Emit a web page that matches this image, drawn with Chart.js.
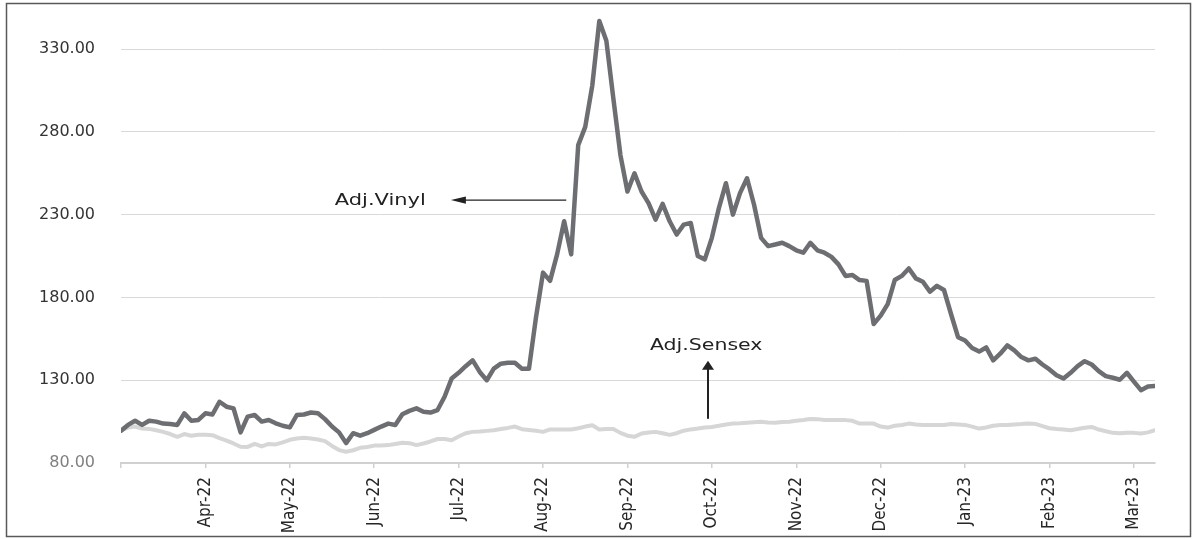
<!DOCTYPE html>
<html>
<head>
<meta charset="utf-8">
<script src="https://cdn.jsdelivr.net/npm/chart.js@4"></script>
<style>
    html, body { margin: 0; padding: 0; background: #ffffff; }
    #wrap { position: relative; width: 1194px; height: 539px; }
</style>
</head>
<body>
<div id="wrap"><canvas id="vinyl_chart" width="1194" height="539"></canvas></div>
<script>
// month labels, one every 12 points on the x index
const monthLabels = ['Apr-22', 'May-22', 'Jun-22', 'Jul-22', 'Aug-22', 'Sep-22', 'Oct-22',
    'Nov-22', 'Dec-22', 'Jan-23', 'Feb-23', 'Mar-23']
const pointsPerMonth = 12

const yTicks = [80, 130, 180, 230, 280, 330]

// Adj.Vinyl (rebased to 100)
const vinyl = [
    99.5, 103, 105.5, 103, 105.5, 105, 103.8, 103.5, 103, 110,
    105.5, 106, 110, 109.3, 117, 114, 113, 98.5, 108, 109,
    105, 106, 104, 102.5, 101.5, 109, 109.3, 110.5, 110, 106.5,
    102, 98.5, 92, 98, 96.5, 98, 100, 102, 103.8, 103,
    109.5, 111.5, 113, 111, 110.5, 112, 120, 131, 134.5, 138.5,
    142, 135, 130, 137, 140, 140.5, 140.5, 136.9, 136.9, 168,
    195, 190, 206, 226, 206, 272, 283, 308, 347, 335,
    300, 266, 244, 255, 244, 237, 227, 236.5, 226, 218,
    224, 225, 205, 203, 216, 234, 249, 230, 243, 252,
    236, 216, 211, 212, 213, 211, 208.5, 207, 213, 208.5,
    207, 204.5, 200, 193, 193.5, 190.5, 190, 164, 169, 176,
    190.5, 193, 197.5, 191.5, 189.5, 183.5, 187, 184.5, 170, 156,
    154, 149.5, 147.3, 149.8, 142, 146, 151, 148, 144, 142,
    143, 139.5, 136.5, 133, 131, 134.5, 138.5, 141.5, 139.5, 135.5,
    132.5, 131.5, 130.3, 134.5, 129.2, 124, 126.2, 126.5
]

// Adj.Sensex (rebased to 100)
const sensex = [
    99.5, 101.5, 102, 100.8, 100.6, 99.8, 98.8, 97.5, 95.8, 97.5,
    96.5, 97, 97, 96.8, 95, 93.5, 91.8, 89.8, 89.7, 91.5,
    90, 91.5, 91.2, 92.5, 94, 94.8, 95.2, 94.8, 94.2, 93.2,
    90.3, 87.8, 86.8, 87.7, 89.2, 89.7, 90.5, 90.5, 90.8, 91.5,
    92.2, 92, 90.8, 91.8, 93, 94.5, 94.5, 93.8, 96, 98,
    98.8, 99, 99.4, 99.8, 100.5, 101.2, 102, 100.4, 100, 99.5,
    98.8, 100.3, 100.2, 100.2, 100.2, 101, 102, 102.8, 100.2, 100.5,
    100.6, 98.2, 96.5, 95.8, 97.8, 98.4, 98.8, 98, 97, 98,
    99.5, 100.3, 100.8, 101.4, 101.8, 102.5, 103.3, 103.8, 104, 104.3,
    104.6, 104.9, 104.5, 104.3, 104.7, 104.9, 105.5, 106, 106.6, 106.5,
    106, 105.9, 105.9, 105.9, 105.5, 103.8, 103.8, 103.8, 102, 101.4,
    102.5, 103, 103.8, 103.3, 102.9, 102.9, 102.9, 102.9, 103.6, 103.3,
    103, 102, 100.8, 101.5, 102.5, 102.9, 103, 103.3, 103.5, 103.8,
    103.6, 102.3, 101, 100.5, 100.3, 99.8, 100.5, 101.3, 101.8, 100.2,
    99.2, 98.2, 97.9, 98.2, 98.2, 97.8, 98.5, 99.8
]

function toPoints(values) {
    return values.map((v, i) => ({ x: i, y: v }))
}

function arrow(ctx, x1, y1, x2, y2, len, half) {
    const a = Math.atan2(y2 - y1, x2 - x1)
    ctx.beginPath()
    ctx.moveTo(x1, y1)
    ctx.lineTo(x2 - Math.cos(a) * len * 0.8, y2 - Math.sin(a) * len * 0.8)
    ctx.stroke()
    ctx.beginPath()
    ctx.moveTo(x2, y2)
    ctx.lineTo(x2 - Math.cos(a) * len - Math.sin(a) * half, y2 - Math.sin(a) * len + Math.cos(a) * half)
    ctx.lineTo(x2 - Math.cos(a) * len + Math.sin(a) * half, y2 - Math.sin(a) * len - Math.cos(a) * half)
    ctx.closePath()
    ctx.fill()
}

// text drawn wider than the font, like the stretched original
function wideText(ctx, text, x, y, sx) {
    ctx.save()
    ctx.translate(x, y)
    ctx.scale(sx, 1)
    ctx.fillText(text, 0, 0)
    ctx.restore()
}

// outer frame + the two labelled arrows
const decorations = {
    id: 'decorations',
    beforeDraw(chart) {
        const ctx = chart.ctx
        ctx.save()
        ctx.strokeStyle = '#595959'
        ctx.lineWidth = 1.5
        ctx.strokeRect(6.5, 3.5, 1184, 533)
        ctx.restore()
    },
    afterDatasetsDraw(chart) {
        const ctx = chart.ctx
        const xs = chart.scales.x
        const ys = chart.scales.y
        ctx.save()
        ctx.fillStyle = '#222222'
        ctx.strokeStyle = '#222222'
        ctx.font = '16px "DejaVu Sans", Verdana, sans-serif'
        ctx.textBaseline = 'alphabetic'
        ctx.textAlign = 'left'
        wideText(ctx, 'Adj.Vinyl', xs.getPixelForValue(30.4), ys.getPixelForValue(235.8), 1.31)
        wideText(ctx, 'Adj.Sensex', xs.getPixelForValue(75.2), ys.getPixelForValue(148.4), 1.28)

        ctx.lineWidth = 1.2
        arrow(ctx, xs.getPixelForValue(63.3), ys.getPixelForValue(238.8),
            xs.getPixelForValue(46.9), ys.getPixelForValue(238.8), 15, 3.6)
        ctx.lineWidth = 2
        arrow(ctx, xs.getPixelForValue(83.45), ys.getPixelForValue(106.7),
            xs.getPixelForValue(83.45), ys.getPixelForValue(141.7), 9, 6)
        ctx.restore()
    }
}

const config = {
    type: 'line',
    data: {
        datasets: [{
            label: 'Adj.Vinyl',
            data: toPoints(vinyl),
            borderColor: '#6d6e71',
            borderWidth: 4.5,
            pointRadius: 0,
            tension: 0,
            borderJoinStyle: 'round',
            borderCapStyle: 'round'
        }, {
            label: 'Adj.Sensex',
            data: toPoints(sensex),
            borderColor: '#d6d6d6',
            borderWidth: 4,
            pointRadius: 0,
            tension: 0,
            borderJoinStyle: 'round',
            borderCapStyle: 'round'
        }]
    },
    options: {
        responsive: false,
        animation: false,
        layout: { padding: { left: 0, right: 39, top: 16, bottom: 0 } },
        plugins: {
            legend: { display: false },
            tooltip: { enabled: false }
        },
        scales: {
            x: {
                type: 'linear',
                min: 0,
                max: vinyl.length - 1,
                afterFit: (scale) => {
                    scale.height = 76
                    scale.paddingLeft = 0
                    scale.paddingRight = 0
                },
                afterBuildTicks: (axis) => {
                    const t = [{ value: 0 }]
                    for (let i = 0; i < monthLabels.length; i++) {
                        t.push({ value: (i + 1) * pointsPerMonth })
                    }
                    axis.ticks = t
                },
                grid: {
                    drawOnChartArea: false,
                    drawTicks: true,
                    tickLength: 5,
                    color: '#d0d0d0',
                    lineWidth: 1.5
                },
                border: { display: true, color: '#d0d0d0', width: 2 },
                ticks: {
                    autoSkip: false,
                    minRotation: 90,
                    maxRotation: 90,
                    padding: 9,
                    color: '#262626',
                    font: { family: '"Liberation Sans Narrow", "DejaVu Sans Condensed", Roboto, sans-serif', size: 17 },
                    callback: (v) => v === 0 ? '' : monthLabels[v / pointsPerMonth - 1]
                }
            },
            y: {
                min: 80,
                max: 350,
                afterFit: (scale) => {
                    scale.width = 121
                    scale.paddingTop = 0
                    scale.paddingBottom = 0
                },
                afterBuildTicks: (axis) => {
                    axis.ticks = yTicks.map(v => ({ value: v }))
                },
                grid: {
                    drawTicks: false,
                    color: '#d9d9d9',
                    lineWidth: 1
                },
                border: { display: false },
                ticks: {
                    padding: 26,
                    color: (c) => c.tick && c.tick.value === 80 ? '#808080' : '#333333',
                    font: { family: '"DejaVu Sans", Verdana, sans-serif', size: 16 },
                    callback: (v) => Number(v).toFixed(2)
                }
            }
        }
    },
    plugins: [decorations]
}

let chart = new Chart(document.getElementById('vinyl_chart'), config)
</script>
</body>
</html>
